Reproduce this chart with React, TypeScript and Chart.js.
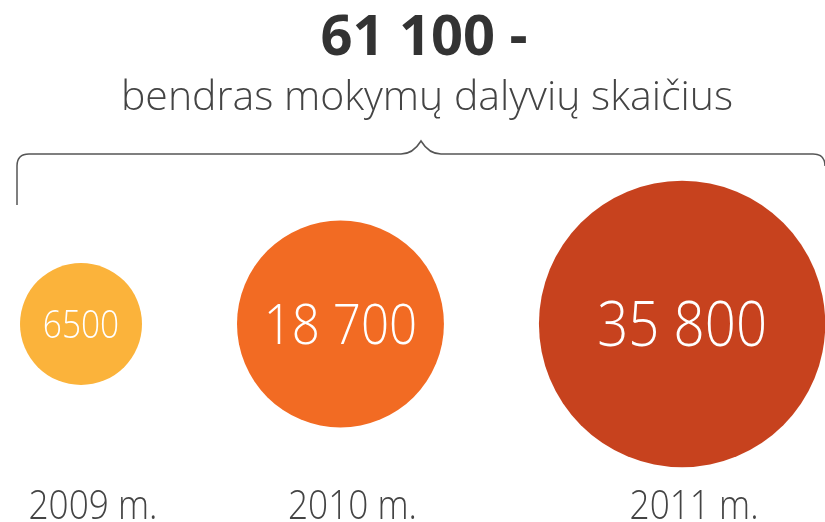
import React, { useEffect, useRef } from "react";
import { Chart, registerables, BubbleController } from "chart.js";

Chart.register(...registerables);
// keep the chart area equal to the canvas (no auto-inset for bubble radius)
(BubbleController.prototype as any).getMaxOverflow = function () {
  return 0;
};

const years = ["2009 m.", "2010 m.", "2011 m."];
const participants = [6500, 18700, 35800];
const valueLabels = ["6500", "18 700", "35 800"];
const totalLabel = "61 100 -";
const subtitleText = "bendras mokymų dalyvių skaičius";

const COLORS = ["#FBB33B", "#F26B23", "#C7421E"];
const LABEL_SIZES = [38, 56, 62];
const BASE_R = 61;
const GAP = 95;
const START_X = 20;
const W = 825;
const H = 522;
const SQUEEZE = 0.88;

function radiusOf(v: number) {
  return BASE_R * Math.sqrt(v / participants[0]);
}

function buildPoints() {
  const pts: { x: number; y: number; r: number }[] = [];
  let edge = START_X;
  participants.forEach((v) => {
    const r = radiusOf(v);
    const x = edge + r;
    pts.push({ x, y: 0, r });
    edge = x + r + GAP;
  });
  return pts;
}

function drawText(
  ctx: CanvasRenderingContext2D,
  text: string,
  x: number,
  y: number,
  font: string,
  color: string,
  sx: number
) {
  ctx.save();
  ctx.font = font;
  ctx.fillStyle = color;
  ctx.textAlign = "center";
  ctx.textBaseline = "alphabetic";
  ctx.translate(x, y);
  ctx.scale(sx, 1);
  ctx.fillText(text, 0, 0);
  ctx.restore();
}

const decorPlugin = {
  id: "decor",
  beforeDatasetsDraw(chart: any) {
    const ctx = chart.ctx as CanvasRenderingContext2D;
    drawText(ctx, totalLabel, 424, 55, "700 56px 'Open Sans'", "#333333", 1);
    drawText(ctx, subtitleText, 427, 110, "300 41px 'Open Sans'", "#444444", 1);
    ctx.save();
    ctx.strokeStyle = "#555555";
    ctx.lineWidth = 1.5;
    ctx.beginPath();
    ctx.moveTo(17, 205);
    ctx.lineTo(17, 166);
    ctx.quadraticCurveTo(17, 154, 29, 154);
    ctx.lineTo(401, 154);
    ctx.quadraticCurveTo(413, 154, 421, 141);
    ctx.quadraticCurveTo(429, 154, 441, 154);
    ctx.lineTo(813, 154);
    ctx.quadraticCurveTo(825, 154, 825, 166);
    ctx.stroke();
    ctx.restore();
  },
  afterDatasetsDraw(chart: any) {
    const ctx = chart.ctx as CanvasRenderingContext2D;
    const meta = chart.getDatasetMeta(0);
    meta.data.forEach((el: any, i: number) => {
      const fs = LABEL_SIZES[i];
      drawText(
        ctx,
        valueLabels[i],
        el.x,
        el.y + fs * 0.357,
        `300 ${fs}px 'Open Sans'`,
        "#FFFFFF",
        SQUEEZE
      );
      drawText(ctx, years[i], el.x + 12, 519, "300 40px 'Open Sans'", "#444444", SQUEEZE);
    });
  },
};

export default function App() {
  const ref = useRef<HTMLCanvasElement | null>(null);
  useEffect(() => {
    if (!ref.current) return;
    const chart = new Chart(ref.current, {
      type: "bubble",
      data: {
        labels: years,
        datasets: [
          {
            data: buildPoints(),
            backgroundColor: COLORS,
            borderWidth: 0,
            hoverRadius: 0,
            clip: false as any,
          },
        ],
      },
      options: {
        responsive: false,
        animation: false,
        events: [],
        layout: { padding: { top: 150, bottom: 24, left: 0, right: 0 } },
        scales: {
          x: { type: "linear", display: false, min: 0, max: W },
          y: { type: "linear", display: false, min: -1, max: 1 },
        },
        plugins: {
          legend: { display: false },
          tooltip: { enabled: false },
        },
      },
      plugins: [decorPlugin],
    });
    return () => chart.destroy();
  }, []);
  return (
    <div style={{ position: "absolute", left: 0, top: 0, width: W, height: H, background: "#fff" }}>
      <canvas ref={ref} width={W} height={H} style={{ width: W, height: H, display: "block" }} />
    </div>
  );
}
